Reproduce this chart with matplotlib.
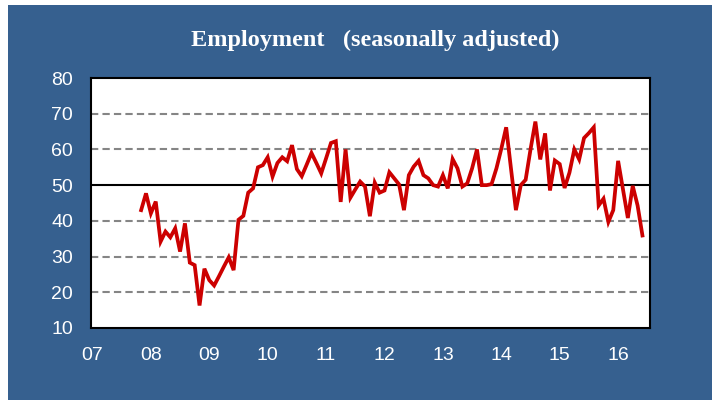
import numpy as np
import matplotlib.pyplot as plt
from matplotlib.patches import Rectangle

# Employment index, monthly, Nov 2007 ..
start_month = 10  # months after Jan 2007
employment = [
    43.0, 47.7, 42.1, 45.4, 34.2, 37.0, 35.4, 37.9, 31.4, 39.3,
    28.3, 27.6, 16.3, 26.6, 23.4, 21.9, 24.5, 27.2, 29.8, 26.2,
    40.3, 41.4, 47.9, 49.1, 55.0, 55.6, 57.8, 52.4, 56.2, 57.8,
    56.7, 61.2, 54.5, 52.5, 55.7, 59.0, 56.2, 53.3, 57.5, 61.8,
    62.3, 45.3, 60.0, 46.5, 48.8, 51.0, 49.6, 41.3, 50.7, 47.9,
    48.5, 53.6, 51.9, 50.2, 43.0, 52.8, 55.2, 56.8, 52.8, 51.9,
    50.0, 49.6, 52.8, 49.1, 57.3, 54.7, 49.6, 50.5, 54.7, 60.0,
    50.0, 50.0, 50.3, 54.7, 60.2, 66.2, 54.5, 43.0, 50.0, 51.5,
    60.0, 67.8, 57.2, 64.5, 48.5, 56.9, 55.9, 49.2, 53.5, 60.0,
    57.2, 63.2, 64.6, 66.2, 44.3, 46.2, 39.7, 43.0, 56.8, 48.8,
    40.8, 49.8, 44.3, 35.9,
]
year_labels = ["07", "08", "09", "10", "11", "12", "13", "14", "15", "16"]
y_ticks = [10, 20, 30, 40, 50, 60, 70, 80]
grid_levels = [20, 30, 40, 60, 70]

W, H = 718, 405
bg = "#36608f"

fig = plt.figure(figsize=(W / 100, H / 100), dpi=100)
fig.patch.set_facecolor("white")
fig.patches.append(Rectangle((8 / W, 5 / H), (712 - 8) / W, (400 - 5) / H,
                             transform=fig.transFigure, facecolor=bg,
                             edgecolor="none", zorder=-10))

ax = fig.add_axes([91 / W, (H - 328) / H, 559 / W, 250 / H])
ax.set_facecolor("white")
ax.set_zorder(5)

months = np.arange(start_month, start_month + len(employment))
for g in grid_levels:
    ax.axhline(g, color="#858585", lw=1.5, ls=(0, (3.5, 2)), zorder=1)
ax.axhline(50, color="black", lw=1.5, zorder=2)
ax.plot(months, employment, color="#cc0000", lw=2.7, solid_joinstyle="miter", zorder=3)

ax.set_xlim(-0.3, 114.55)
ax.set_ylim(10, 80)
ax.set_yticks(y_ticks)
ax.set_xticks(np.arange(len(year_labels)) * 12)
ax.set_xticklabels(year_labels)
ax.tick_params(length=0, colors="white", labelsize=14)
ax.tick_params(axis="y", pad=13)
ax.tick_params(axis="x", pad=14)
for lab in ax.get_xticklabels() + ax.get_yticklabels():
    lab.set_fontfamily(["Liberation Sans Narrow", "Liberation Sans"])
    lab.set_color("white")
for s in ax.spines.values():
    s.set_color("black")
    s.set_linewidth(1.5)

fig.text(375 / W, 1 - 40 / H, "Employment   (seasonally adjusted)",
         color="white", fontsize=17.5, fontweight="bold",
         family="Liberation Serif", ha="center", va="center")

fig.savefig("out.png", dpi=100, facecolor=fig.get_facecolor())
